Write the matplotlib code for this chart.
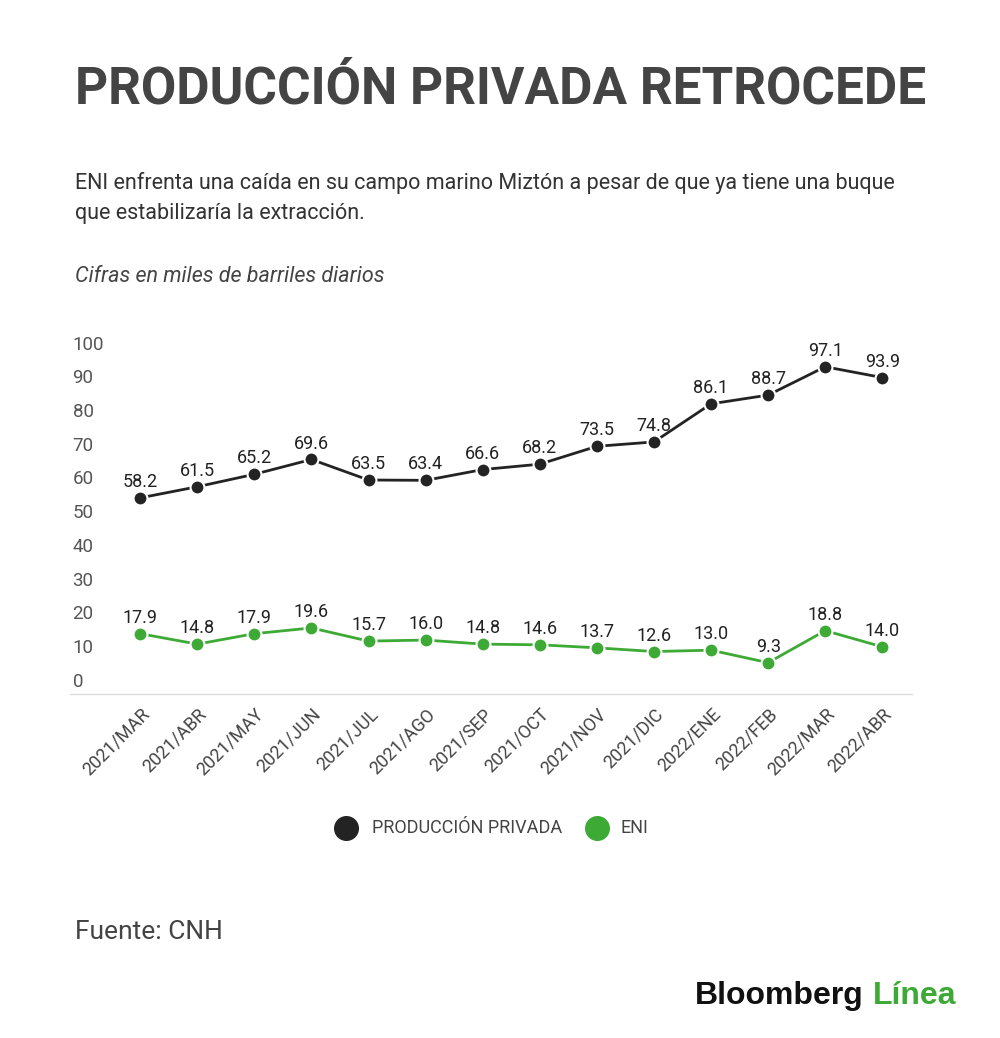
import matplotlib
matplotlib.use("Agg")
import matplotlib.pyplot as plt
from matplotlib import transforms

# datos
meses = ["2021/MAR", "2021/ABR", "2021/MAY", "2021/JUN", "2021/JUL", "2021/AGO",
         "2021/SEP", "2021/OCT", "2021/NOV", "2021/DIC", "2022/ENE", "2022/FEB",
         "2022/MAR", "2022/ABR"]
privada = [58.2, 61.5, 65.2, 69.6, 63.5, 63.4, 66.6, 68.2, 73.5, 74.8, 86.1, 88.7, 97.1, 93.9]
eni = [17.9, 14.8, 17.9, 19.6, 15.7, 16.0, 14.8, 14.6, 13.7, 12.6, 13.0, 9.3, 18.8, 14.0]
y_ticks = [0, 10, 20, 30, 40, 50, 60, 70, 80, 90, 100]

NEGRO = "#232323"
VERDE = "#3daa35"

plt.rcParams["font.family"] = ["Roboto", "DejaVu Sans"]

fig = plt.figure(figsize=(10, 10.38), dpi=100)

# textos de cabecera
fig.text(0.075, 1 - 90 / 1038, "PRODUCCIÓN PRIVADA RETROCEDE", fontsize=37,
         fontweight="bold", color="#444444", va="center", ha="left")
fig.text(0.075, 1 - 183 / 1038,
         "ENI enfrenta una caída en su campo marino Miztón a pesar de que ya tiene una buque",
         fontsize=15.5, color="#333333", va="center")
fig.text(0.075, 1 - 213 / 1038, "que estabilizaría la extracción.",
         fontsize=15.5, color="#333333", va="center")
fig.text(0.075, 1 - 276 / 1038, "Cifras en miles de barriles diarios",
         fontsize=15.5, style="italic", color="#444444", va="center")

ax = fig.add_axes([0.07, 1 - 694 / 1038, 0.842, (694 - 357) / 1038])
x = list(range(len(meses)))

ax.plot(x, privada, color=NEGRO, lw=2, marker="o", ms=10,
        mfc=NEGRO, mec="white", mew=1.5, zorder=3, clip_on=False)
ax.plot(x, eni, color=VERDE, lw=2, marker="o", ms=10,
        mfc=VERDE, mec="white", mew=1.5, zorder=3, clip_on=False)

for xi, v in zip(x, privada):
    ax.annotate(f"{v:.1f}", (xi, v), xytext=(0, 5), textcoords="offset points",
                ha="center", va="bottom", fontsize=13, color="#222222")
for xi, v in zip(x, eni):
    ax.annotate(f"{v:.1f}", (xi, v), xytext=(0, 5), textcoords="offset points",
                ha="center", va="bottom", fontsize=13, color="#222222")

ax.set_xlim(-1.23, 13.52)
ax.set_ylim(0, 100)

# etiquetas del eje y por encima de su posicion
trans = transforms.blended_transform_factory(ax.transAxes, ax.transData)
for t in y_ticks:
    ax.text(0.003, t + 1.0, str(t), transform=trans, ha="left", va="bottom",
            fontsize=13.5, color="#555555")

ax.set_yticks([])
ax.set_xticks(x)
ax.set_xticklabels(meses, rotation=45, ha="right", rotation_mode="anchor",
                   fontsize=13, color="#444444")
ax.tick_params(axis="x", length=0, pad=8)

for s in ["top", "right", "left"]:
    ax.spines[s].set_visible(False)
ax.spines["bottom"].set_color("#dddddd")
ax.spines["bottom"].set_linewidth(1)

# leyenda
ly = 1 - 828 / 1038
fig.lines.append(plt.Line2D([346 / 1000], [ly], marker="o", ms=17, color=NEGRO,
                            transform=fig.transFigure))
fig.text(372 / 1000, ly, "PRODUCCIÓN PRIVADA", fontsize=13, color="#444444",
         va="center", ha="left")
fig.lines.append(plt.Line2D([597 / 1000], [ly], marker="o", ms=17, color=VERDE,
                            transform=fig.transFigure))
fig.text(621 / 1000, ly, "ENI", fontsize=13, color="#444444", va="center", ha="left")

# fuente y logo
fig.text(0.075, 1 - 932 / 1038, "Fuente: CNH", fontsize=19, color="#444444", va="center")
logo = fig.text(0.695, 1 - 996 / 1038, "Bloomberg", fontsize=23, fontweight="bold",
                family=["Liberation Sans", "DejaVu Sans"], color="#111111", va="center")
fig.canvas.draw()
bb = logo.get_window_extent()
fig.text((bb.x1 + 9) / 1000, 1 - 996 / 1038, "Línea", fontsize=23, fontweight="bold",
         family=["Liberation Sans", "DejaVu Sans"], color=VERDE, va="center")

fig.savefig("out.png", dpi=100, facecolor="white")
